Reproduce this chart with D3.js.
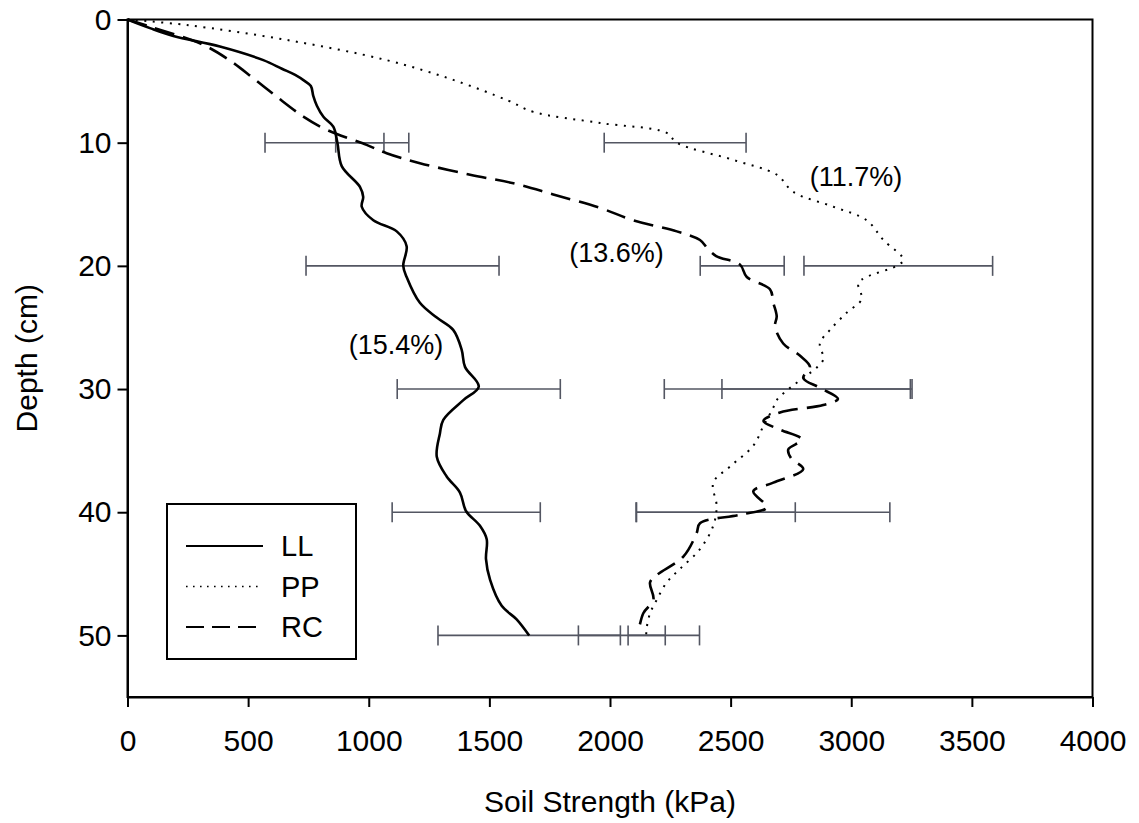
<!DOCTYPE html>
<html>
<head>
<meta charset="utf-8">
<script src="https://cdn.jsdelivr.net/npm/d3@7"></script>
<style>
  html, body { margin: 0; padding: 0; background: #fff; }
  svg { display: block; font-family: "Liberation Sans", Arial, sans-serif; }
</style>
</head>
<body>
<svg id="chart" width="1139" height="823"></svg>
<script>
// Penetration resistance profiles (depth in cm, soil strength in kPa)
const llDepth = [0, 0.7, 1.34, 2.2, 3.3, 4.0, 4.5, 5.0, 5.4, 6.2, 7.0, 7.9, 8.7, 10, 11.9, 13.6, 14.4, 15.2, 16.3, 17.2, 18.4, 20, 20.9, 23.0, 24.2, 25.2, 26.8, 28.2, 29.8, 30.9, 32.5, 33.6, 35.5, 37.1, 38.4, 39.9, 41.1, 42.2, 43.8, 45.5, 47.6, 48.7, 50];
const llKpa   = [0, 93, 190, 383, 563, 640, 695, 735, 760, 770, 785, 812, 853, 870, 888, 964, 977, 971, 1019, 1116, 1157, 1143, 1157, 1212, 1282, 1350, 1385, 1399, 1456, 1392, 1309, 1295, 1282, 1323, 1378, 1403, 1461, 1489, 1486, 1503, 1551, 1613, 1665];

const ppDepth = [0, 0.45, 1.66, 3.3, 4.9, 6.6, 7.5, 8.4, 9.2, 10, 11.4, 12.6, 14.0, 15.2, 16.3, 17.9, 19.5, 20.0, 20.9, 21.4, 22.7, 23.8, 25.2, 26.3, 27.6, 28.7, 29.8, 30.9, 31.5, 33.0, 34.6, 36.3, 37.6, 39.5, 41.1, 43.0, 44.6, 45.7, 47.1, 48.2, 49.4, 50];
const ppKpa   = [0, 245, 660, 1074, 1350, 1580, 1682, 1959, 2235, 2277, 2511, 2691, 2760, 2926, 3064, 3133, 3216, 3188, 3064, 3029, 3043, 2981, 2912, 2870, 2884, 2829, 2753, 2691, 2677, 2636, 2594, 2497, 2428, 2442, 2428, 2373, 2290, 2235, 2194, 2166, 2152, 2150];

const rcDepth = [0, 0.58, 1.93, 3.15, 4.77, 6.26, 7.88, 8.96, 10.18, 10.85, 11.66, 12.6, 13.3, 14.2, 15.3, 16.3, 17.2, 17.9, 18.6, 19.2, 19.9, 20.9, 21.9, 23.0, 24.1, 24.9, 26.3, 27.3, 28.2, 29.1, 29.9, 30.8, 31.3, 31.9, 32.6, 33.3, 34.1, 34.9, 35.6, 36.5, 37.6, 38.3, 39.6, 40.2, 40.9, 41.7, 43.6, 45.1, 45.7, 47.1, 48.2, 49.8];
const rcKpa   = [0, 93, 300, 411, 522, 618, 729, 826, 991, 1074, 1212, 1420, 1600, 1765, 1959, 2097, 2277, 2373, 2405, 2440, 2539, 2567, 2663, 2677, 2691, 2684, 2718, 2788, 2829, 2801, 2870, 2945, 2884, 2705, 2636, 2705, 2795, 2739, 2750, 2801, 2677, 2594, 2650, 2539, 2373, 2359, 2304, 2194, 2166, 2180, 2138, 2117];

// Mean ± standard deviation at the sampled depths
const barDepths = [10, 20, 30, 40, 50];
const llMean = [868, 1140, 1456, 1404, 1665];
const llSd   = [298, 400, 338, 307, 378];
const ppMean = [2270, 3195, 2735, 2439, 2152];
const ppSd   = [294, 391, 510, 329, 77];
const rcMean = [963, 2548, 2858, 2634, 2120];
const rcSd   = [100, 174, 394, 526, 251];

// Soil water content labels
const noteText  = ["(11.7%)", "(13.6%)", "(15.4%)"];
const noteKpa   = [3020, 2027, 1113];
const noteDepth = [12.7, 18.9, 26.4];

const xTicks = [0, 500, 1000, 1500, 2000, 2500, 3000, 3500, 4000];
const yTicks = [0, 10, 20, 30, 40, 50];

const seriesNames = ["LL", "PP", "RC"];

(function () {
  const svg = d3.select("#chart");
  const mLeft = 127.5, mRight = 1092.5, mTop = 19.5, mBottom = 697;

  const x = d3.scaleLinear().domain([0, 4000]).range([mLeft, mRight]);
  const y = d3.scaleLinear().domain([0, 55]).range([mTop, mBottom]);

  const styles = {
    LL: { dash: null, width: 2.6 },
    PP: { dash: "2,6.5", width: 2 },
    RC: { dash: "20,9", width: 2.6 }
  };

  // error bars
  const barColor = "#535662";
  const capHalf = 10;
  function drawBars(means, sds) {
    const g = svg.append("g");
    barDepths.forEach((d, i) => {
      const lo = means[i] - sds[i], hi = means[i] + sds[i];
      g.append("line").attr("x1", x(lo)).attr("x2", x(hi)).attr("y1", y(d)).attr("y2", y(d))
        .attr("stroke", barColor).attr("stroke-width", 1.6);
      [lo, hi].forEach(v => {
        g.append("line").attr("x1", x(v)).attr("x2", x(v))
          .attr("y1", y(d) - capHalf).attr("y2", y(d) + capHalf)
          .attr("stroke", barColor).attr("stroke-width", 1.6);
      });
    });
  }
  drawBars(llMean, llSd);
  drawBars(ppMean, ppSd);
  drawBars(rcMean, rcSd);

  // profile lines, smoothed through the measured points
  const line = d3.line().x(p => x(p[1])).y(p => y(p[0])).curve(d3.curveCatmullRom.alpha(0.5));
  function drawProfile(depths, kpa, name) {
    const st = styles[name];
    svg.append("path")
      .datum(depths.map((d, i) => [d, kpa[i]]))
      .attr("d", line)
      .attr("fill", "none")
      .attr("stroke", "#000")
      .attr("stroke-width", st.width)
      .attr("stroke-linejoin", "round")
      .attr("stroke-dasharray", st.dash);
  }
  drawProfile(llDepth, llKpa, "LL");
  drawProfile(ppDepth, ppKpa, "PP");
  drawProfile(rcDepth, rcKpa, "RC");

  // frame
  svg.append("rect").attr("x", mLeft).attr("y", mTop)
    .attr("width", mRight - mLeft).attr("height", mBottom - mTop)
    .attr("fill", "none").attr("stroke", "#000").attr("stroke-width", 2);

  // axes
  const fontSize = 30;
  const xAxis = svg.append("g").attr("transform", `translate(0,${mBottom})`)
    .call(d3.axisBottom(x).tickValues(xTicks).tickFormat(d3.format("d")).tickSize(10).tickSizeOuter(0).tickPadding(23));
  const yAxis = svg.append("g").attr("transform", `translate(${mLeft},0)`)
    .call(d3.axisLeft(y).tickValues(yTicks).tickFormat(d3.format("d")).tickSize(10).tickSizeOuter(0).tickPadding(6));
  [xAxis, yAxis].forEach(g => {
    g.select(".domain").attr("stroke", "#000").attr("stroke-width", 2);
    g.selectAll(".tick line").attr("stroke", "#000").attr("stroke-width", 2);
    g.selectAll(".tick text").attr("fill", "#000")
      .style("font-size", fontSize + "px").style("font-family", "'Liberation Sans', Arial, sans-serif");
  });

  svg.append("text").attr("x", (mLeft + mRight) / 2).attr("y", 812)
    .attr("text-anchor", "middle").style("font-size", fontSize + "px")
    .text("Soil Strength (kPa)");
  svg.append("text").attr("transform", `translate(37,${(mTop + mBottom) / 2}) rotate(-90)`)
    .attr("text-anchor", "middle").style("font-size", fontSize + "px")
    .text("Depth (cm)");

  // moisture annotations
  noteText.forEach((t, i) => {
    svg.append("text").attr("x", x(noteKpa[i])).attr("y", y(noteDepth[i]))
      .attr("dy", "0.36em").attr("text-anchor", "middle")
      .style("font-size", "27px").text(t);
  });

  // legend
  const lg = svg.append("g").attr("transform", "translate(167,504)");
  lg.append("rect").attr("width", 189).attr("height", 155)
    .attr("fill", "#fff").attr("stroke", "#000").attr("stroke-width", 2);
  seriesNames.forEach((name, i) => {
    const cy = 42 + i * 40.5;
    lg.append("line").attr("x1", 19).attr("x2", 96).attr("y1", cy).attr("y2", cy)
      .attr("stroke", "#000").attr("stroke-width", name === "PP" ? 1.6 : 2)
      .attr("stroke-dasharray", name === "PP" ? "1.6,5.4" : (name === "RC" ? "18,8" : null));
    lg.append("text").attr("x", 114).attr("y", cy).attr("dy", "0.36em")
      .style("font-size", "29px").text(name);
  });
})();
</script>
</body>
</html>
